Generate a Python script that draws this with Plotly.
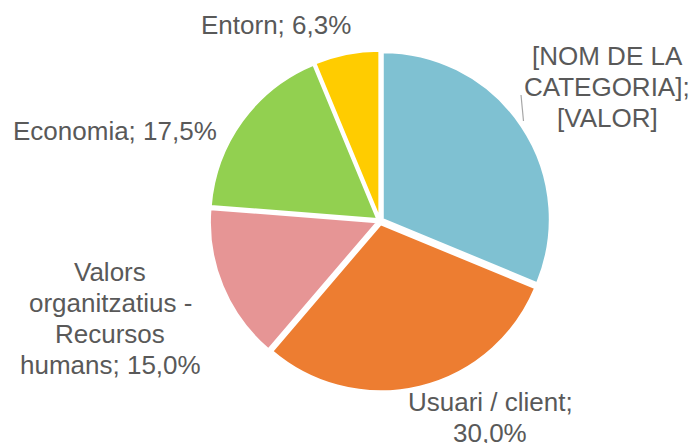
import plotly.graph_objects as go

# slice data, clockwise from 12 o'clock
categories = ["[NOM DE LA CATEGORIA]", "Usuari / client",
              "Valors organitzatius - Recursos humans", "Economia", "Entorn"]
values = [31.25, 30.0, 15.0, 17.5, 6.25]
colors = ["#7FC1D2", "#ED7D31", "#E69595", "#92D050", "#FFCC00"]

# label lines as drawn in the chart
label_lines = [
    ["[NOM DE LA", "CATEGORIA];", "[VALOR]"],
    ["Usuari / client;", "30,0%"],
    ["Valors", "organitzatius -", "Recursos", "humans; 15,0%"],
    ["Economia; 17,5%"],
    ["Entorn; 6,3%"],
]
# label anchor in window pixels (centre of first line)
label_pos = [(607, 56), (490, 402), (110, 272), (115, 131), (276, 25)]

# the page body has an 8px margin, so the figure is drawn 8px in
OFF = 8
W, H = 697 - OFF, 443 - OFF
LINE_GAP = 31
TEXT_COLOR = "#595959"


def px_x(x):
    return (x - OFF) / W


def px_y(y):
    return 1 - (y - OFF) / H


# pie centre (380, 221), radius 167 in window pixels
cx, cy, r = 380, 221, 167 * 1.02

fig = go.Figure()
fig.add_trace(go.Pie(
    labels=categories,
    values=values,
    sort=False,
    direction="clockwise",
    rotation=0,
    pull=0.02,
    marker=dict(colors=colors, line=dict(color="white", width=2)),
    textinfo="none",
    hoverinfo="label+percent",
    domain=dict(x=[px_x(cx - r), px_x(cx + r)], y=[px_y(cy + r), px_y(cy - r)]),
    showlegend=False,
))

annotations = []
for lines, (px, py) in zip(label_lines, label_pos):
    for i, line in enumerate(lines):
        annotations.append(dict(
            text=line,
            x=px_x(px), y=px_y(py + i * LINE_GAP),
            xref="paper", yref="paper",
            xanchor="center", yanchor="middle",
            showarrow=False,
            font=dict(size=26, color=TEXT_COLOR),
        ))

# leader line for the first label
shapes = [dict(type="line", xref="paper", yref="paper",
               x0=px_x(521), y0=px_y(95), x1=px_x(523.5), y1=px_y(121),
               line=dict(color="#A6A6A6", width=1.2))]

fig.update_layout(
    width=W, height=H,
    margin=dict(l=0, r=0, t=0, b=0),
    paper_bgcolor="white",
    plot_bgcolor="white",
    font=dict(family="Liberation Sans, Arial, sans-serif"),
    annotations=annotations,
    shapes=shapes,
)

fig.write_html("out.html")
